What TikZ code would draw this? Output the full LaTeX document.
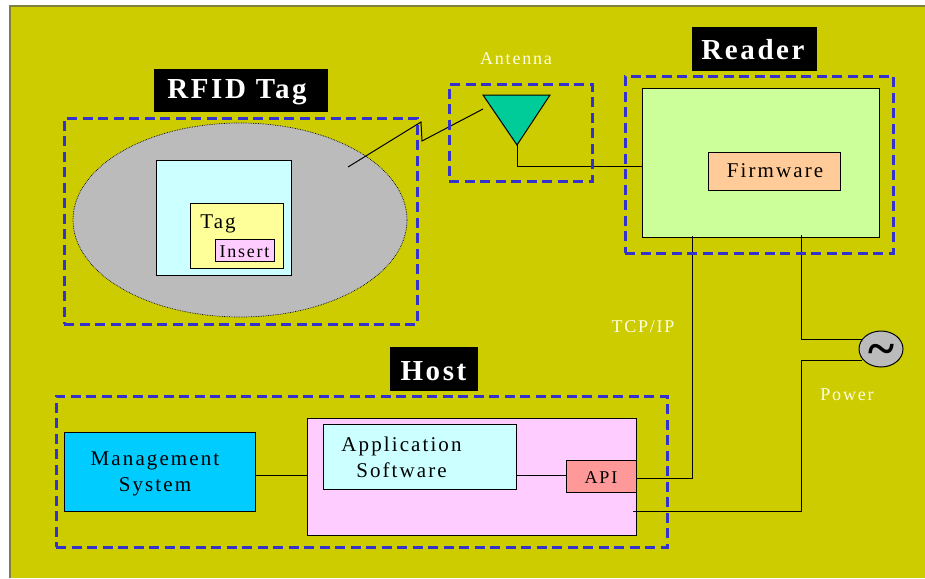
\documentclass[tikz,border=0pt]{standalone}
\usepackage{fontspec}
\usetikzlibrary{shapes.geometric}
\setmainfont{Liberation Serif}
\newfontfamily\spacedfont[LetterSpace=10]{Liberation Serif}
\newfontfamily\headfont[LetterSpace=9]{Liberation Serif}
\definecolor{slidebg}{HTML}{CCCC00}
\definecolor{slideedge}{HTML}{808040}
\definecolor{dashblue}{HTML}{3333CC}
\definecolor{taggray}{HTML}{BBBBBB}
\definecolor{lightcyan}{HTML}{CCFFFF}
\definecolor{lightyellow}{HTML}{FFFF99}
\definecolor{lightpink}{HTML}{FFCCFF}
\definecolor{readergreen}{HTML}{CCFF99}
\definecolor{firmorange}{HTML}{FFCC99}
\definecolor{mgmtblue}{HTML}{00CCFF}
\definecolor{apired}{HTML}{FF9999}
\definecolor{antgreen}{HTML}{00CC99}
\tikzset{
    panel/.style={draw=black, line width=1pt, inner sep=0pt, text=black},
    dashbox/.style={draw=dashblue, dash pattern=on 10pt off 5.5pt, line width=3pt, inner sep=0pt},
    wire/.style={draw=black, line width=1pt},
    headlabel/.style={fill=black, text=white, inner sep=0pt},
    headtext/.style={text=white, inner sep=0pt, font=\fontsize{29}{32}\selectfont\bfseries\headfont},
    bodytext/.style={font=\fontsize{21}{26}\selectfont\spacedfont, align=center, inner sep=0pt},
    smalltext/.style={font=\fontsize{18}{20}\selectfont\spacedfont, inner sep=0pt},
    whitetext/.style={font=\fontsize{18}{20}\selectfont\spacedfont, text=white!90!yellow, inner sep=0pt}
}
\begin{document}
\begin{tikzpicture}[x=1pt, y=-1pt]
    \useasboundingbox (0, 0) rectangle (925, 578);
    % sfondo
    \fill[slidebg] (10, 6) rectangle (925, 578);
    \draw[slideedge, line width=1.3pt] (10, 578) -- (10, 6) -- (925, 6);

    % titoli
    \foreach \n/\x/\y/\w/\h in {tagtitle/241/90.5/174/43, readertitle/754.5/49/125/44, hosttitle/434/369/88/44} {
        \node[headlabel, minimum width=\w pt, minimum height=\h pt] (\n) at (\x, \y) {};
    }
    \node[headtext] (tagtext) at (237, 92) {RFID Tag};
    \node[headtext] (readertext) at (753, 50) {Reader};
    \node[headtext] (hosttext) at (433.5, 371) {Host};

    % tag
    \node[draw=black, densely dotted, line width=0.7pt, fill=taggray, ellipse, minimum width=334pt, minimum height=194pt, inner sep=0pt] (tagbody) at (240, 220) {};
    \node[panel, fill=lightcyan, minimum width=135pt, minimum height=115pt] (tagchip) at (223.5, 217.5) {};
    \node[panel, fill=lightyellow, minimum width=93pt, minimum height=65pt] (tagbox) at (236.5, 235.5) {};
    \node[bodytext] (taglabel) at (218, 223.5) {Tag};
    \node[panel, fill=lightpink, minimum width=59pt, minimum height=22pt] (insert) at (244.5, 250) {};
    \node[smalltext] (inserttext) at (244.5, 251.5) {Insert};

    % antenna
    \coordinate (anttl) at (483, 95);
    \coordinate (anttr) at (550, 95);
    \coordinate (anttip) at (517, 145);
    \fill[antgreen, draw=black, line width=1pt] (anttl) -- (anttr) -- (anttip) -- cycle;
    \node[whitetext] (anttext) at (516, 59) {Antenna};

    % reader
    \node[panel, fill=readergreen, minimum width=237pt, minimum height=149pt] (reader) at (760.5, 162.5) {};
    \node[panel, fill=firmorange, minimum width=132pt, minimum height=38pt] (firmware) at (774, 171) {};
    \node[bodytext] (firmtext) at (775, 171) {Firmware};

    % host
    \node[panel, fill=mgmtblue, minimum width=191pt, minimum height=79pt] (mgmt) at (159.5, 471.5) {};
    \node[bodytext] (mgmttext) at (155, 473.5) {Management\\System};
    \node[panel, fill=lightpink, minimum width=329pt, minimum height=117pt] (appbox) at (471.5, 476.5) {};
    \node[panel, fill=lightcyan, minimum width=193pt, minimum height=65pt] (appsoft) at (419.5, 456.5) {};
    \node[bodytext] (apptext) at (401.5, 457) {Application\\Software};
    \node[panel, fill=apired, minimum width=70pt, minimum height=32pt] (api) at (601, 476) {};
    \node[smalltext] (apitext) at (601, 477.5) {API};

    % alimentazione
    \node[draw=black, line width=1pt, fill=taggray, ellipse, minimum width=44pt, minimum height=36pt, inner sep=0pt] (power) at (881, 349) {};
    \node[inner sep=0pt, font=\fontsize{50}{50}\selectfont\bfseries] (powersign) at (881, 355) {\textasciitilde};
    \node[whitetext] (powertext) at (847, 395) {Power};
    \node[whitetext] (tcptext) at (643, 327) {TCP/IP};

    % collegamenti
    \coordinate (linkstart) at (348, 167);
    \coordinate (linkup) at (421, 122);
    \coordinate (linkdown) at (422, 141);
    \coordinate (linkend) at (483, 109);
    \draw[wire] (linkstart) -- (linkup) -- (linkdown) -- (linkend);
    \draw[wire] (anttip) |- (reader.west |- 0, 166);
    \draw[wire] (mgmt.east |- 0, 475) -- (appbox.west |- 0, 475);
    \draw[wire] (appsoft.east |- 0, 475) -- (api.west |- 0, 475);
    % tcp/ip
    \coordinate (tcpin) at (692, 236);
    \coordinate (tcpout) at (692, 478);
    \draw[wire] (tcpin) -- (tcpout) -- (api.east |- tcpout);
    % power
    \coordinate (pwrin) at (801, 235);
    \coordinate (pwrtop) at (862, 339);
    \coordinate (pwrbot) at (862, 360);
    \coordinate (pwrout) at (633, 511);
    \draw[wire] (pwrin) |- (pwrtop);
    \draw[wire] (pwrbot) -| (801, 511) -- (pwrout);

    % riquadri tratteggiati
    \foreach \n/\x/\y/\w/\h in {tagframe/240.5/221/353/206, antframe/520.5/132.5/143/97, readerframe/759/164.5/268/177, hostframe/361.5/471.5/611/151} {
        \node[dashbox, minimum width=\w pt, minimum height=\h pt] (\n) at (\x, \y) {};
    }
\end{tikzpicture}
\end{document}
